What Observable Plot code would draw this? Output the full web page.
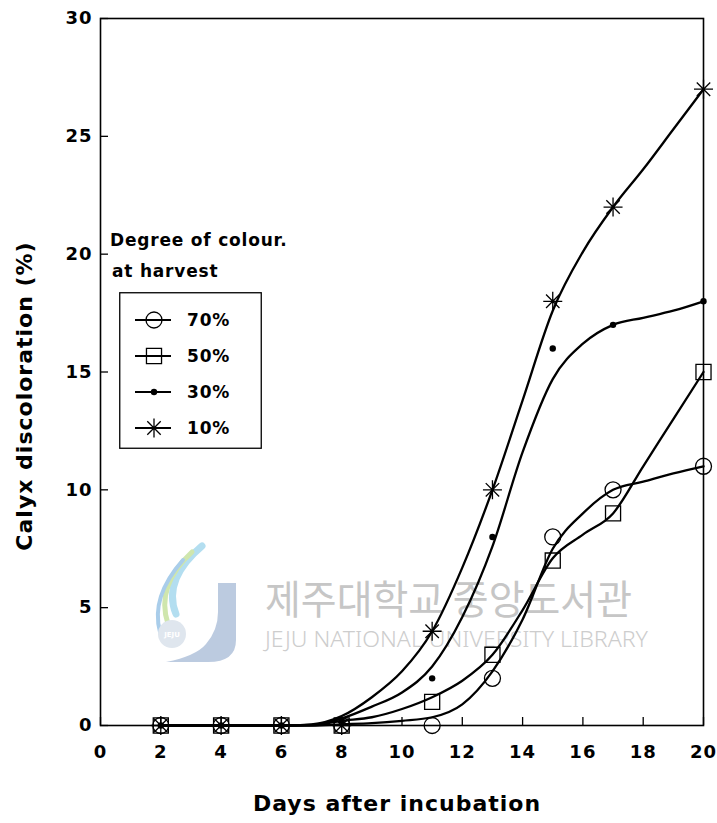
<!DOCTYPE html>
<html>
<head>
<meta charset="utf-8">
<script src="https://cdn.jsdelivr.net/npm/d3@7"></script>
<script src="https://cdn.jsdelivr.net/npm/@observablehq/plot@0.6"></script>
<style>
  body { margin: 0; background: #fff; }
  #chart { position: relative; width: 717px; height: 823px; }
  .legend-title {
    position: absolute; font-family: "DejaVu Sans", sans-serif; font-weight: bold;
    font-size: 17px; letter-spacing: 0.8px; color: #000; white-space: nowrap;
  }
  #legend { position: absolute; left: 119px; top: 292px; }
</style>
</head>
<body>
<div id="chart">
  <div class="legend-title" style="left:110px; top:230px;">Degree of colour.</div>
  <div class="legend-title" style="left:112px; top:261px;">at harvest</div>
</div>
<script>
// Sampling days and observed calyx discoloration (%) per colour grade
const days = [2, 4, 6, 8, 11, 13, 15, 17, 20];
const seriesLabels = ["70%", "50%", "30%", "10%"];
const observed70 = [0, 0, 0, 0, 0, 2, 8, 10, 11];
const observed50 = [0, 0, 0, 0, 1, 3, 7, 9, 15];
const observed30 = [0, 0, 0, 0.2, 2, 8, 16, 17, 18];
const observed10 = [0, 0, 0, 0, 4, 10, 18, 22, 27];

// Fitted response curves, read at these days
const curveDays = [2, 6, 7, 8, 9, 10, 11, 12, 13, 14, 15, 16, 17, 18, 19, 20];
const fitted70 = [0, 0, 0, 0.05, 0.1, 0.2, 0.35, 0.9, 2.3, 4.5, 7.5, 9.0, 10.0, 10.35, 10.7, 11.0];
const fitted50 = [0, 0, 0.02, 0.2, 0.35, 0.7, 1.2, 1.9, 3.0, 4.9, 7.1, 8.1, 9.0, 11.0, 13.0, 15.0];
const fitted30 = [0, 0, 0.03, 0.3, 0.8, 1.4, 2.5, 4.6, 7.6, 11.6, 14.7, 16.2, 17.0, 17.3, 17.6, 18.0];
const fitted10 = [0, 0, 0.05, 0.4, 1.2, 2.3, 4.0, 6.7, 10.0, 13.8, 17.6, 20.1, 22.0, 23.6, 25.3, 27.0];

const xTicks = [0, 2, 4, 6, 8, 10, 12, 14, 16, 18, 20];
const yTicks = [0, 5, 10, 15, 20, 25, 30];

// eight-armed star marker
const star8 = {
  draw(ctx, size) {
    const r = Math.sqrt(size / Math.PI);
    for (const a of [0, 45, 90, 135]) {
      const t = a * Math.PI / 180, c = r * Math.cos(t), s = r * Math.sin(t);
      ctx.moveTo(c, s);
      ctx.lineTo(-c, -s);
    }
  }
};

const markerStyles = [
  {symbol: "circle", r: 8, fill: "none", stroke: "black", strokeWidth: 1.3},
  {symbol: "square", r: 8.5, fill: "none", stroke: "black", strokeWidth: 1.3},
  {symbol: "circle", r: 3.2, fill: "black", stroke: "none", strokeWidth: 0},
  {symbol: star8, r: 9.5, fill: "none", stroke: "black", strokeWidth: 1.3}
];

const observedSets = [observed70, observed50, observed30, observed10];
const fittedSets = [fitted70, fitted50, fitted30, fitted10];

const pointRows = observedSets.map((vals, k) =>
  days.map((d, i) => ({day: d, value: vals[i], series: seriesLabels[k]})));
const curveRows = fittedSets.flatMap((vals, k) =>
  curveDays.map((d, i) => ({day: d, value: vals[i], series: seriesLabels[k]})));

const plot = Plot.plot({
  width: 717,
  height: 823,
  marginLeft: 100,
  marginRight: 14,
  marginTop: 18,
  marginBottom: 98,
  style: {fontFamily: "DejaVu Sans, sans-serif", fontSize: "18px", fontWeight: "bold",
          letterSpacing: "1px", background: "transparent", color: "black"},
  x: {domain: [0, 20]},
  y: {domain: [0, 30]},
  marks: [
    Plot.line(curveRows, {x: "day", y: "value", z: "series", curve: "monotone-x",
      stroke: "black", strokeWidth: 2.3}),
    ...pointRows.map((rows, k) => Plot.dot(rows, {x: "day", y: "value", ...markerStyles[k]})),
    Plot.axisX(xTicks, {tickSize: -8, tickPadding: 28, label: null, strokeWidth: 1.3}),
    Plot.axisY(yTicks, {tickSize: -8, tickPadding: 16, label: null, strokeWidth: 1.3}),
    Plot.frame({stroke: "black", strokeWidth: 1.6}),
    Plot.text(["Days after incubation"], {frameAnchor: "bottom", lineAnchor: "middle",
      textAnchor: "middle", dx: -5, dy: 78, fontSize: 22, fontWeight: "bold"}),
    Plot.text(["Calyx discoloration (%)"], {frameAnchor: "left", lineAnchor: "middle",
      textAnchor: "middle", rotate: -90, dx: -76, dy: 24, fontSize: 22, fontWeight: "bold"})
  ]
});

// faint library watermark behind the data
const wm = d3.select(plot).insert("g", ":first-child")
  .attr("class", "watermark").attr("text-anchor", "start");
wm.append("path")
  .attr("d", "M218,583 L236,583 L236,640 Q236,662 208,662 L166,662 Q196,656 206,644 Q218,630 218,612 Z")
  .attr("fill", "#bccbe0");
wm.append("path").attr("d", "M202,546 C178,566 166,590 176,614")
  .attr("fill", "none").attr("stroke", "#b3def0").attr("stroke-width", 7).attr("stroke-linecap", "round");
wm.append("path").attr("d", "M192,552 C166,576 160,600 168,624")
  .attr("fill", "none").attr("stroke", "#cfe6ad").attr("stroke-width", 5).attr("stroke-linecap", "round");
wm.append("path").attr("d", "M183,560 C160,586 154,610 160,632")
  .attr("fill", "none").attr("stroke", "#a9cdea").attr("stroke-width", 4).attr("stroke-linecap", "round");
wm.append("circle").attr("cx", 172).attr("cy", 634).attr("r", 14).attr("fill", "#dfe6ee");
wm.append("text").attr("x", 172).attr("y", 637).attr("text-anchor", "middle")
  .attr("font-size", 7).attr("fill", "#ffffff").attr("letter-spacing", 0).text("JEJU");
wm.append("text").attr("x", 265).attr("y", 614)
  .attr("textLength", 367).attr("lengthAdjust", "spacingAndGlyphs")
  .attr("font-family", "Noto Sans CJK KR").attr("font-weight", 400).attr("font-size", 40)
  .attr("fill", "#c6c6c6").attr("letter-spacing", 0).text("제주대학교 중앙도서관");
wm.append("text").attr("x", 265).attr("y", 647)
  .attr("textLength", 383).attr("lengthAdjust", "spacingAndGlyphs")
  .attr("font-family", "Noto Sans").attr("font-weight", 300).attr("font-size", 21)
  .attr("fill", "#cdcdcd").attr("letter-spacing", 0).text("JEJU NATIONAL UNIVERSITY LIBRARY");

document.getElementById("chart").prepend(plot);
plot.style.position = "absolute";
plot.style.left = "0px";
plot.style.top = "0px";

// legend box
const legendW = 143, legendH = 157, rowGap = 36, firstRow = 28;
const legend = d3.create("svg").attr("id", "legend")
  .attr("width", legendW).attr("height", legendH);
legend.append("rect").attr("x", 0.75).attr("y", 0.75)
  .attr("width", legendW - 1.5).attr("height", legendH - 1.5)
  .attr("fill", "white").attr("stroke", "black").attr("stroke-width", 1.3);
seriesLabels.forEach((label, k) => {
  const cy = firstRow + k * rowGap;
  const g = legend.append("g");
  g.append("line").attr("x1", 16).attr("x2", 52).attr("y1", cy).attr("y2", cy)
    .attr("stroke", "black").attr("stroke-width", 2.2);
  const m = markerStyles[k];
  const type = m.symbol === "circle" ? d3.symbolCircle : m.symbol === "square" ? d3.symbolSquare : m.symbol;
  g.append("path")
    .attr("transform", `translate(35,${cy})`)
    .attr("d", d3.symbol(type, Math.PI * m.r * m.r)())
    .attr("fill", m.fill === "none" ? "none" : m.fill)
    .attr("stroke", m.stroke === "none" ? "none" : m.stroke)
    .attr("stroke-width", m.strokeWidth);
  g.append("text").attr("x", 68).attr("y", cy).attr("dy", "0.36em")
    .attr("font-family", "DejaVu Sans, sans-serif").attr("font-weight", "bold")
    .attr("font-size", 17).attr("letter-spacing", "0.8px").text(label);
});
document.getElementById("chart").append(legend.node());
</script>
</body>
</html>
